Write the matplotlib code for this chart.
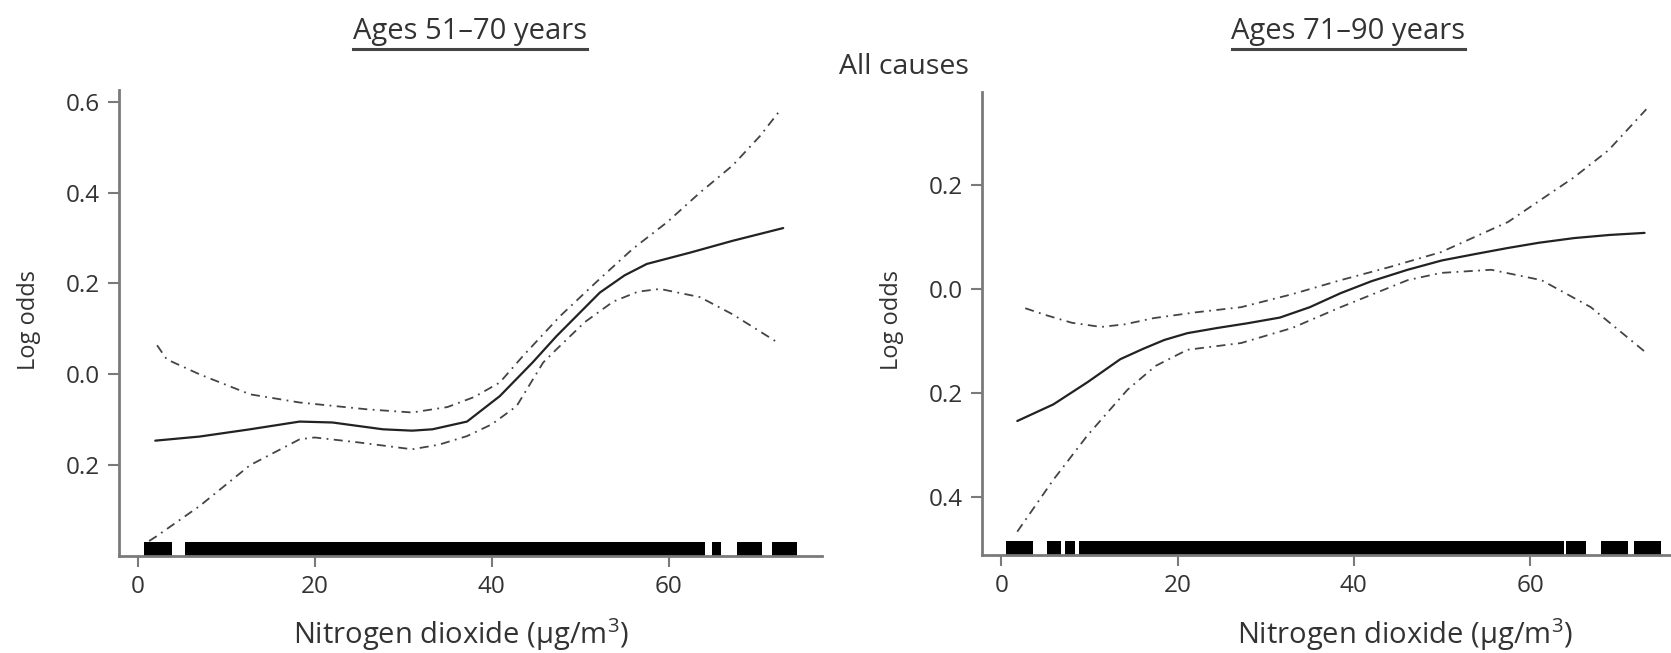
import matplotlib
matplotlib.use("Agg")
import matplotlib.pyplot as plt
from matplotlib.lines import Line2D

plt.rcParams['font.family'] = ['Open Sans', 'DejaVu Sans']
plt.rcParams['mathtext.fontset'] = 'custom'
plt.rcParams['mathtext.rm'] = 'Open Sans'

# ---- data ----
# Ages 51-70
fit1_x = [2.0, 7.0, 12.7, 18.3, 22.0, 27.7, 31.0, 33.3, 37.2, 40.9, 44.6, 47.3, 52.2, 55.0, 57.5, 62.4, 67.2, 72.9]
fit1_y = [-0.146, -0.137, -0.121, -0.104, -0.106, -0.121, -0.124, -0.121, -0.104, -0.048, 0.026, 0.084, 0.18, 0.218, 0.243, 0.268, 0.294, 0.322]
up1_x = [2.2, 3.3, 7.0, 12.7, 18.3, 25.9, 31.0, 35.0, 38.0, 40.9, 43.5, 47.7, 51.9, 55.9, 59.8, 63.5, 67.2, 70.3, 72.5]
up1_y = [0.064, 0.033, 0.0, -0.044, -0.062, -0.077, -0.084, -0.072, -0.05, -0.018, 0.04, 0.128, 0.205, 0.276, 0.335, 0.40, 0.46, 0.525, 0.58]
lo1_x = [1.3, 2.1, 7.0, 12.7, 18.3, 20.0, 25.0, 31.0, 34.0, 37.2, 40.0, 42.8, 45.8, 47.3, 50.5, 53.7, 56.5, 59.0, 63.5, 67.2, 72.2]
lo1_y = [-0.367, -0.357, -0.29, -0.2, -0.143, -0.139, -0.15, -0.165, -0.155, -0.136, -0.11, -0.07, 0.026, 0.055, 0.115, 0.16, 0.182, 0.188, 0.17, 0.132, 0.071]
rug1 = [(0.7, 3.9), (5.4, 64.1), (64.9, 65.9), (67.7, 70.5), (71.6, 74.5)]

# Ages 71-90
fit2_x = [1.8, 5.9, 9.8, 13.5, 16.1, 18.5, 21.1, 24.5, 27.9, 31.6, 35.0, 38.5, 42.0, 46.1, 50.0, 54.0, 57.5, 61.0, 65.0, 69.0, 73.0]
fit2_y = [-0.254, -0.222, -0.179, -0.135, -0.115, -0.098, -0.085, -0.075, -0.066, -0.055, -0.035, -0.008, 0.015, 0.037, 0.055, 0.068, 0.079, 0.089, 0.098, 0.104, 0.108]
up2_x = [2.7, 5.0, 8.0, 11.3, 14.0, 17.3, 22.0, 27.2, 33.0, 38.5, 44.0, 49.9, 57.5, 65.0, 68.9, 73.2]
up2_y = [-0.037, -0.05, -0.065, -0.073, -0.068, -0.056, -0.045, -0.035, -0.01, 0.017, 0.042, 0.071, 0.129, 0.215, 0.267, 0.346]
lo2_x = [1.8, 5.9, 9.8, 14.3, 17.5, 21.1, 27.2, 33.0, 38.5, 46.1, 49.9, 55.6, 61.3, 66.9, 73.2]
lo2_y = [-0.467, -0.367, -0.281, -0.194, -0.148, -0.117, -0.104, -0.075, -0.035, 0.017, 0.031, 0.037, 0.017, -0.035, -0.123]
rug2 = [(0.5, 3.6), (5.2, 6.8), (7.2, 8.4), (8.8, 63.9), (64.1, 66.4), (68.1, 71.1), (71.8, 74.9)]

xticks = [0, 20, 40, 60]
yticks1 = [0.6, 0.4, 0.2, 0.0, -0.2]
ylabels1 = ['0.6', '0.4', '0.2', '0.0', '0.2']
yticks2 = [0.2, 0.0, -0.2, -0.4]
ylabels2 = ['0.2', '0.0', '0.2', '0.4']

gray = '#7a7a7a'
txt = '#333333'

fig = plt.figure(figsize=(16.71, 6.53), dpi=100)
ax1 = fig.add_axes([0.0712, 0.1485, 0.4208, 0.7137])
ax2 = fig.add_axes([0.5877, 0.150, 0.4123, 0.709])


def panel(ax, fx, fy, ux, uy, lx, ly, rug, yt, yl, xlim, ylim):
    ax.plot(fx, fy, color='#222222', lw=1.6, solid_capstyle='round')
    ax.plot(ux, uy, color='#444444', lw=1.3, linestyle=(0, (5, 3, 1, 3)))
    ax.plot(lx, ly, color='#444444', lw=1.3, linestyle=(0, (5, 3, 1, 3)))
    ax.broken_barh([(a, b - a) for a, b in rug], (0, 0.03),
                   transform=ax.get_xaxis_transform(), color='black', lw=0)
    ax.set_xlim(*xlim)
    ax.set_ylim(*ylim)
    ax.set_xticks(xticks)
    ax.set_yticks(yt)
    ax.set_yticklabels(yl)
    for s in ['top', 'right']:
        ax.spines[s].set_visible(False)
    for s in ['left', 'bottom']:
        ax.spines[s].set_color(gray)
        ax.spines[s].set_linewidth(2)
    ax.tick_params(colors=gray, labelcolor=txt, labelsize=17.5, length=8, width=1.5, pad=6)


panel(ax1, fit1_x, fit1_y, up1_x, up1_y, lo1_x, lo1_y, rug1, yticks1, ylabels1,
      (-2.1, 77.3), (-0.40, 0.626))
panel(ax2, fit2_x, fit2_y, up2_x, up2_y, lo2_x, lo2_y, rug2, yticks2, ylabels2,
      (-2.2, 76.0), (-0.512, 0.379))

# titles with underline
fig.text(0.281, 0.951, 'Ages 51\u201370 years', ha='center', va='center', fontsize=21, color=txt)
fig.add_artist(Line2D([0.211, 0.351], [0.925, 0.925], color='#444444', lw=2.2))
fig.text(0.807, 0.951, 'Ages 71\u201390 years', ha='center', va='center', fontsize=21, color=txt)
fig.add_artist(Line2D([0.737, 0.877], [0.925, 0.925], color='#444444', lw=2.2))
fig.text(0.541, 0.897, 'All causes', ha='center', va='center', fontsize=20.5, color=txt)

# axis labels
xl = 'Nitrogen dioxide (\u00b5g/m$^{3}$)'
fig.text(0.276, 0.028, xl, ha='center', va='center', fontsize=21, color=txt)
fig.text(0.841, 0.028, xl, ha='center', va='center', fontsize=21, color=txt)
fig.text(0.0174, 0.51, 'Log odds', rotation=90, ha='center', va='center', fontsize=17, color=txt)
fig.text(0.534, 0.51, 'Log odds', rotation=90, ha='center', va='center', fontsize=17, color=txt)

fig.savefig('out.png', dpi=100)
